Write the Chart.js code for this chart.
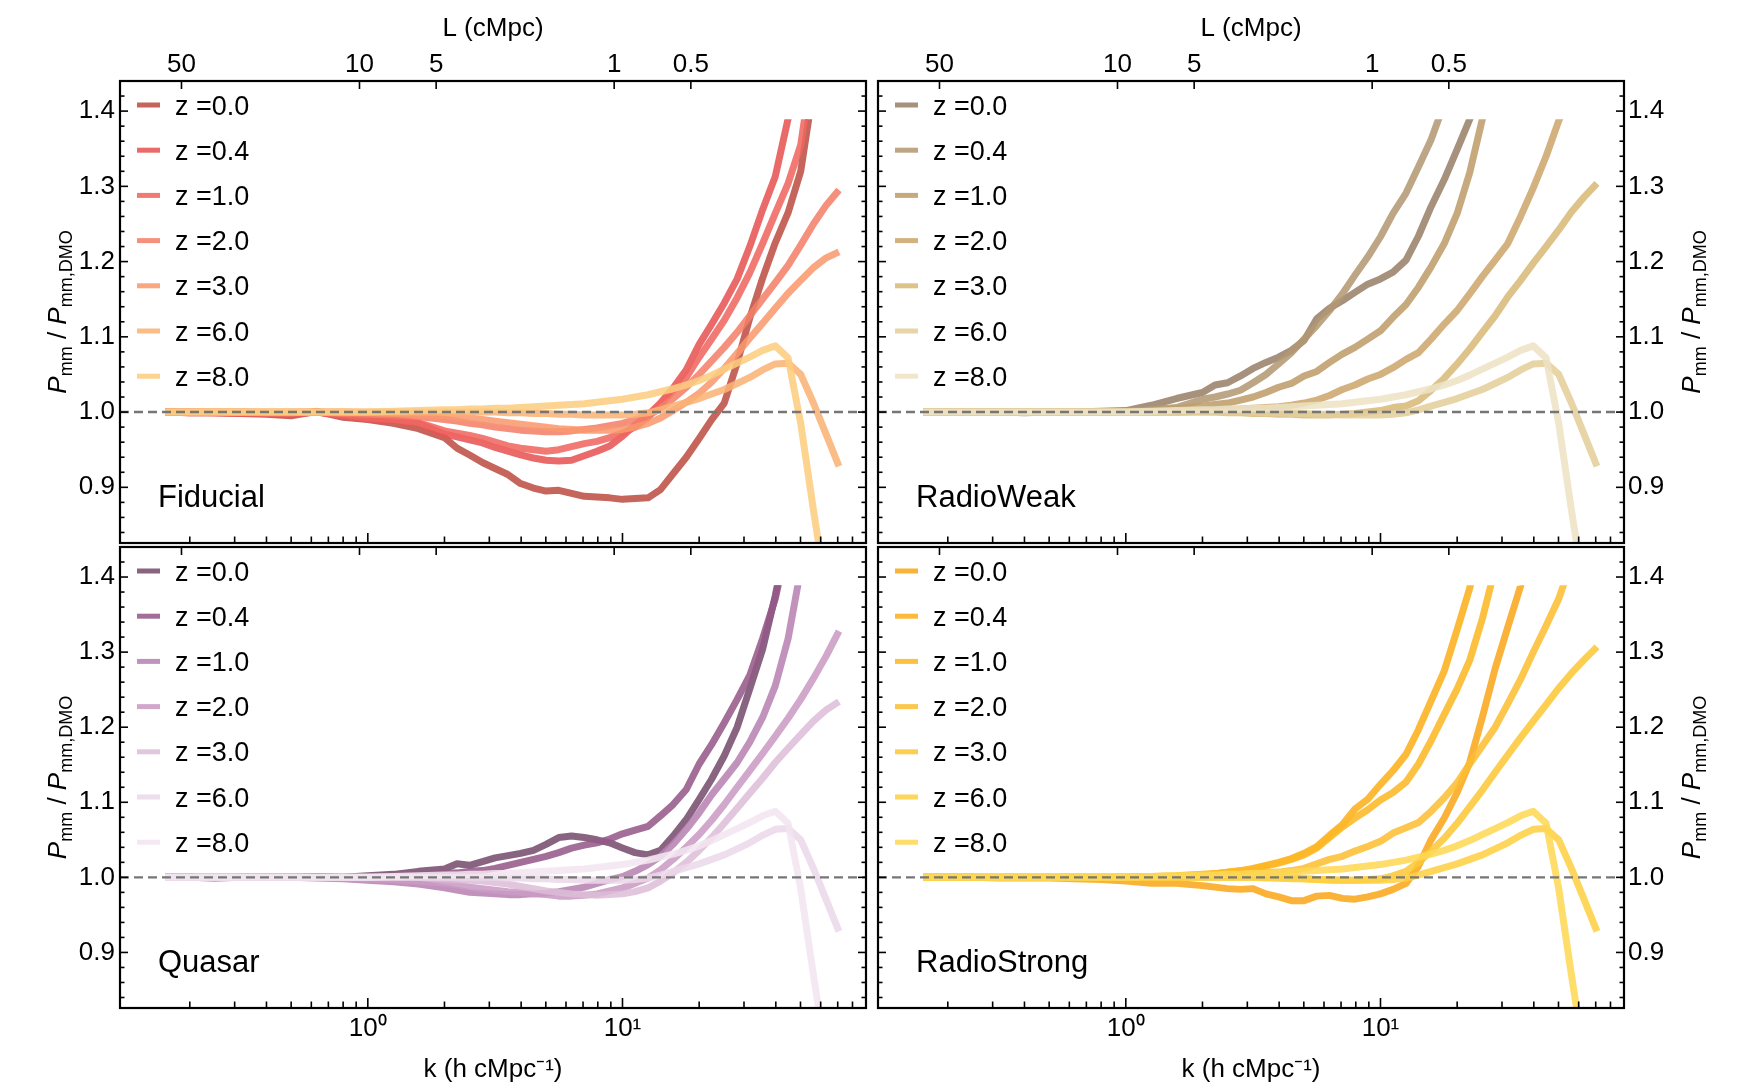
<!DOCTYPE html>
<html>
<head>
<meta charset="utf-8">
<script src="https://cdn.jsdelivr.net/npm/chart.js@4.4.1/dist/chart.umd.min.js"></script>
<style>
  body { margin: 0; background: #fff; }
  #wrap { position: relative; width: 1744px; height: 1089px; background: #fff; }
  #wrap canvas { position: absolute; }
</style>
</head>
<body>
<div id="wrap">
  <canvas id="c_fid" width="872" height="545" style="left:0px;top:0px"></canvas>
  <canvas id="c_rw" width="872" height="545" style="left:872px;top:0px"></canvas>
  <canvas id="c_q" width="872" height="544" style="left:0px;top:545px"></canvas>
  <canvas id="c_rs" width="872" height="544" style="left:872px;top:545px"></canvas>
</div>
<script>
// k grid (h cMpc^-1)
const kValues = [0.16, 0.2, 0.25, 0.32, 0.4, 0.5, 0.63, 0.8, 1.0, 1.26, 1.58, 2.0, 2.24, 2.51, 2.82, 3.16, 3.55, 3.98, 4.47, 5.01, 5.62, 6.31, 7.08, 7.94, 8.91, 10.0, 11.2, 12.6, 14.1, 15.8, 17.8, 20.0, 22.4, 25.1, 28.2, 31.6, 35.5, 39.8, 44.7, 50.1, 56.2, 63.1, 70.8];

const zLabels = ['z =0.0', 'z =0.4', 'z =1.0', 'z =2.0', 'z =3.0', 'z =6.0', 'z =8.0'];
const panelNames = ['Fiducial', 'RadioWeak', 'Quasar', 'RadioStrong'];

// axis ticks
const kMajorTicks = [1, 10];
const kTickLabels = ['10\u2070', '10\u00B9'];
const kMinorTicks = [0.2, 0.3, 0.4, 0.5, 0.6, 0.7, 0.8, 0.9, 2, 3, 4, 5, 6, 7, 8, 9, 20, 30, 40, 50, 60, 70, 80];
const lTicks = [50, 10, 5, 1, 0.5];
const lTickLabels = ['50', '10', '5', '1', '0.5'];
const yMajorTicks = [0.9, 1.0, 1.1, 1.2, 1.3, 1.4];

// Fiducial
const fiducialZ0 = [1.000, 0.999, 0.999, 0.998, 0.997, 0.995, 1.001, 0.993, 0.990, 0.985, 0.978, 0.966, 0.952, 0.943, 0.933, 0.925, 0.917, 0.905, 0.899, 0.895, 0.896, 0.892, 0.888, 0.887, 0.886, 0.884, 0.885, 0.886, 0.897, 0.918, 0.940, 0.965, 0.990, 1.012, 1.065, 1.125, 1.178, 1.225, 1.265, 1.320, 1.430, null, null];
const fiducialZ04 = [1.000, 0.999, 0.999, 0.998, 0.998, 0.997, 1.000, 0.995, 0.991, 0.989, 0.985, 0.971, 0.967, 0.963, 0.959, 0.953, 0.948, 0.943, 0.939, 0.936, 0.935, 0.936, 0.942, 0.948, 0.955, 0.968, 0.983, 0.996, 1.012, 1.032, 1.056, 1.090, 1.117, 1.145, 1.177, 1.220, 1.269, 1.313, 1.390, 1.480, null, null, null];
const fiducialZ1 = [1.000, 1.000, 0.999, 0.999, 0.998, 0.998, 1.000, 0.996, 0.992, 0.990, 0.986, 0.975, 0.972, 0.969, 0.965, 0.960, 0.955, 0.952, 0.950, 0.948, 0.950, 0.954, 0.958, 0.961, 0.966, 0.972, 0.980, 0.993, 1.010, 1.028, 1.046, 1.073, 1.097, 1.122, 1.152, 1.185, 1.224, 1.264, 1.304, 1.355, 1.470, null, null];
const fiducialZ2 = [1.000, 1.000, 1.000, 1.000, 0.999, 0.999, 1.000, 0.998, 0.997, 0.996, 0.994, 0.990, 0.988, 0.985, 0.983, 0.980, 0.978, 0.976, 0.975, 0.974, 0.974, 0.975, 0.977, 0.979, 0.982, 0.985, 0.990, 0.995, 1.005, 1.018, 1.033, 1.050, 1.068, 1.086, 1.106, 1.128, 1.150, 1.172, 1.195, 1.222, 1.250, 1.275, 1.295];
const fiducialZ3 = [1.000, 1.000, 1.000, 1.000, 1.000, 1.000, 1.000, 1.000, 0.999, 0.998, 0.997, 0.995, 0.993, 0.992, 0.990, 0.988, 0.986, 0.984, 0.982, 0.980, 0.978, 0.977, 0.976, 0.976, 0.976, 0.977, 0.980, 0.985, 0.992, 1.002, 1.013, 1.025, 1.040, 1.058, 1.078, 1.098, 1.118, 1.138, 1.158, 1.175, 1.192, 1.205, 1.213];

// z=6 and z=8 curves are the same in all four runs
const sharedZ6 = [1.000, 1.000, 1.000, 1.000, 1.000, 1.000, 1.000, 1.000, 1.000, 1.000, 1.000, 1.000, 1.000, 1.000, 1.000, 1.000, 0.999, 0.999, 0.998, 0.998, 0.997, 0.997, 0.996, 0.996, 0.996, 0.996, 0.997, 0.999, 1.003, 1.008, 1.013, 1.018, 1.024, 1.030, 1.038, 1.046, 1.056, 1.064, 1.065, 1.050, 1.012, 0.970, 0.928];
const sharedZ8 = [1.000, 1.000, 1.000, 1.000, 1.000, 1.000, 1.000, 1.000, 1.000, 1.001, 1.002, 1.003, 1.003, 1.004, 1.004, 1.005, 1.005, 1.006, 1.007, 1.008, 1.009, 1.010, 1.011, 1.013, 1.015, 1.017, 1.020, 1.023, 1.027, 1.031, 1.036, 1.042, 1.049, 1.057, 1.065, 1.073, 1.082, 1.088, 1.072, 0.985, 0.870, 0.760, null];

// RadioWeak
const radioWeakZ0 = [1.000, 1.000, 1.000, 1.000, 0.999, 1.000, 1.000, 1.001, 1.002, 1.009, 1.018, 1.026, 1.036, 1.039, 1.048, 1.058, 1.066, 1.073, 1.082, 1.095, 1.124, 1.138, 1.148, 1.159, 1.170, 1.177, 1.186, 1.202, 1.234, 1.273, 1.309, 1.349, 1.389, 1.430, null, null, null, null, null, null, null, null, null];
const radioWeakZ04 = [1.000, 1.000, 1.000, 1.000, 1.000, 1.000, 1.000, 1.000, 1.001, 1.003, 1.006, 1.017, 1.020, 1.024, 1.029, 1.039, 1.050, 1.064, 1.079, 1.097, 1.115, 1.135, 1.157, 1.182, 1.206, 1.233, 1.264, 1.291, 1.326, 1.362, 1.410, null, null, null, null, null, null, null, null, null, null, null, null];
const radioWeakZ1 = [1.000, 1.000, 1.000, 1.000, 1.000, 1.000, 1.000, 1.000, 1.000, 1.002, 1.004, 1.008, 1.010, 1.012, 1.016, 1.020, 1.026, 1.033, 1.038, 1.048, 1.054, 1.066, 1.077, 1.086, 1.097, 1.108, 1.126, 1.143, 1.166, 1.193, 1.224, 1.264, 1.318, 1.389, 1.460, null, null, null, null, null, null, null, null];
const radioWeakZ2 = [1.000, 1.000, 1.000, 1.000, 1.000, 1.000, 1.000, 1.000, 1.000, 1.000, 1.000, 1.001, 1.002, 1.003, 1.004, 1.005, 1.006, 1.007, 1.009, 1.012, 1.016, 1.022, 1.030, 1.036, 1.044, 1.050, 1.059, 1.070, 1.079, 1.097, 1.117, 1.135, 1.157, 1.180, 1.202, 1.224, 1.260, 1.298, 1.340, 1.387, 1.430, null, null];
const radioWeakZ3 = [1.000, 1.000, 1.000, 1.000, 1.000, 1.000, 1.000, 1.000, 1.000, 1.000, 1.000, 1.000, 1.000, 0.999, 0.999, 0.998, 0.998, 0.997, 0.997, 0.996, 0.996, 0.996, 0.997, 0.998, 1.000, 1.002, 1.006, 1.008, 1.015, 1.029, 1.045, 1.064, 1.084, 1.106, 1.128, 1.153, 1.175, 1.198, 1.220, 1.242, 1.266, 1.286, 1.304];

// Quasar
const quasarZ0 = [1.000, 1.000, 0.999, 1.000, 1.000, 1.000, 1.001, 1.000, 1.002, 1.004, 1.008, 1.011, 1.018, 1.016, 1.021, 1.026, 1.029, 1.032, 1.036, 1.044, 1.053, 1.055, 1.053, 1.050, 1.046, 1.039, 1.033, 1.030, 1.036, 1.055, 1.077, 1.104, 1.131, 1.162, 1.200, 1.251, 1.304, 1.375, 1.460, null, null, null, null];
const quasarZ04 = [1.000, 1.000, 1.000, 1.000, 1.000, 1.000, 1.000, 1.000, 1.000, 1.001, 1.003, 1.005, 1.006, 1.008, 1.009, 1.012, 1.016, 1.020, 1.024, 1.028, 1.033, 1.039, 1.043, 1.046, 1.051, 1.058, 1.063, 1.068, 1.082, 1.097, 1.117, 1.151, 1.177, 1.206, 1.237, 1.269, 1.318, 1.371, 1.450, null, null, null, null];
const quasarZ1 = [1.000, 1.000, 1.000, 1.000, 1.000, 1.000, 0.999, 0.998, 0.996, 0.994, 0.991, 0.986, 0.983, 0.980, 0.979, 0.978, 0.977, 0.977, 0.978, 0.979, 0.981, 0.984, 0.987, 0.992, 0.997, 1.001, 1.008, 1.017, 1.028, 1.044, 1.064, 1.086, 1.110, 1.131, 1.153, 1.180, 1.213, 1.255, 1.318, 1.410, null, null, null];
const quasarZ2 = [1.000, 1.000, 1.000, 1.000, 1.000, 1.000, 1.000, 0.999, 0.998, 0.997, 0.995, 0.992, 0.990, 0.987, 0.985, 0.983, 0.981, 0.980, 0.978, 0.977, 0.975, 0.975, 0.976, 0.978, 0.982, 0.986, 0.992, 0.999, 1.010, 1.024, 1.040, 1.057, 1.076, 1.097, 1.120, 1.142, 1.165, 1.188, 1.212, 1.237, 1.265, 1.295, 1.328];
const quasarZ3 = [1.000, 1.000, 1.000, 1.000, 1.000, 1.000, 1.000, 1.000, 1.000, 1.000, 1.000, 0.998, 0.997, 0.996, 0.995, 0.993, 0.991, 0.988, 0.985, 0.982, 0.980, 0.978, 0.977, 0.976, 0.977, 0.978, 0.981, 0.986, 0.995, 1.006, 1.020, 1.036, 1.053, 1.072, 1.092, 1.112, 1.132, 1.153, 1.172, 1.190, 1.208, 1.223, 1.234];

// RadioStrong
const radioStrongZ0 = [1.000, 1.000, 1.000, 0.999, 0.999, 0.999, 0.998, 0.997, 0.995, 0.992, 0.992, 0.989, 0.987, 0.985, 0.984, 0.985, 0.978, 0.974, 0.969, 0.969, 0.975, 0.976, 0.972, 0.971, 0.974, 0.978, 0.984, 0.992, 1.015, 1.050, 1.079, 1.113, 1.153, 1.213, 1.278, 1.333, 1.388, 1.450, null, null, null, null, null];
const radioStrongZ04 = [1.000, 1.000, 1.000, 1.000, 1.000, 1.000, 1.000, 1.000, 1.000, 1.001, 1.002, 1.004, 1.005, 1.007, 1.009, 1.012, 1.016, 1.020, 1.025, 1.032, 1.041, 1.056, 1.070, 1.091, 1.104, 1.124, 1.142, 1.164, 1.197, 1.235, 1.275, 1.330, 1.385, 1.460, null, null, null, null, null, null, null, null, null];
const radioStrongZ1 = [1.000, 1.000, 1.000, 1.000, 1.000, 1.000, 1.000, 1.000, 1.000, 1.000, 1.001, 1.003, 1.005, 1.007, 1.008, 1.011, 1.015, 1.019, 1.024, 1.030, 1.039, 1.053, 1.067, 1.079, 1.090, 1.103, 1.113, 1.127, 1.151, 1.182, 1.217, 1.251, 1.289, 1.344, 1.412, null, null, null, null, null, null, null, null];
const radioStrongZ2 = [1.000, 1.000, 1.000, 1.000, 1.000, 1.000, 1.000, 1.000, 1.000, 1.000, 1.000, 1.001, 1.002, 1.003, 1.004, 1.005, 1.006, 1.007, 1.009, 1.012, 1.018, 1.024, 1.028, 1.035, 1.041, 1.048, 1.059, 1.066, 1.073, 1.088, 1.106, 1.126, 1.151, 1.175, 1.200, 1.231, 1.264, 1.300, 1.335, 1.371, 1.420, null, null];
const radioStrongZ3 = [1.000, 1.000, 1.000, 1.000, 1.000, 1.000, 1.000, 1.000, 1.000, 1.000, 1.000, 1.000, 1.000, 1.000, 1.000, 1.000, 1.000, 0.999, 0.999, 0.998, 0.997, 0.996, 0.996, 0.996, 0.997, 0.998, 1.002, 1.008, 1.020, 1.035, 1.052, 1.072, 1.094, 1.116, 1.140, 1.163, 1.186, 1.208, 1.230, 1.252, 1.272, 1.290, 1.307];

// line colours (drawn with some transparency)
const fiducialColors = ['#be4e44', '#e75454', '#f06660', '#f47f6a', '#f8996e', '#fab375', '#fdcd7f'];
const radioWeakColors = ['#99816a', '#b39973', '#be9d6a', '#cca76c', '#d8ba78', '#e4cf9b', '#ede2c4'];
const quasarColors = ['#784d6e', '#955a89', '#b883b2', '#ca9bc4', '#ddbed8', '#ebd8e9', '#f2e6f0'];
const radioStrongColors = ['#f9a71a', '#fbb01a', '#fbb825', '#fdbe31', '#fdc837', '#fed043', '#fed854'];

const K_MIN = 0.1064, K_MAX = 90.4;
const Y_MIN = 0.826, Y_MAX = 1.44, Y_CAP = 1.389;
const H_LITTLE = 0.6774;
const LINE_ALPHA = 0.87;
const FONT = "'Liberation Sans', Arial, Helvetica, sans-serif";

Chart.defaults.font.family = FONT;
Chart.defaults.color = '#000';

function rgba(hex, a) {
    var n = parseInt(hex.slice(1), 16);
    return `rgba(${(n >> 16) & 255}, ${(n >> 8) & 255}, ${n & 255}, ${a})`;
}

function lToK(L) {
    return 2 * Math.PI / (H_LITTLE * L);
}

// scales must not push the plot area around with label overflow
function noScalePadding(s) {
    s.paddingTop = 0;
    s.paddingBottom = 0;
    s.paddingLeft = 0;
    s.paddingRight = 0;
}

function drawYTitle(ctx, bx, cy) {
    var parts = [
        { t: 'P', font: 'italic 26px ' + FONT, dy: 0 },
        { t: 'mm', font: '18px ' + FONT, dy: 6 },
        { t: ' / ', font: '26px ' + FONT, dy: 0 },
        { t: 'P', font: 'italic 26px ' + FONT, dy: 0 },
        { t: 'mm,DMO', font: '18px ' + FONT, dy: 6 }
    ];
    ctx.save();
    ctx.translate(bx, cy);
    ctx.rotate(-Math.PI / 2);
    var total = 0;
    parts.forEach(function(p) { ctx.font = p.font; p.w = ctx.measureText(p.t).width; total += p.w; });
    var x = -total / 2;
    ctx.fillStyle = '#000';
    ctx.textBaseline = 'alphabetic';
    parts.forEach(function(p) { ctx.font = p.font; ctx.fillText(p.t, x, p.dy); x += p.w; });
    ctx.restore();
}

// frame with inward ticks, legend, panel name and y title
const decorPlugin = {
    id: 'decor',
    afterDraw(chart, args, opts) {
        var ctx = chart.ctx, a = chart.chartArea;
        var xs = chart.scales.x, ys = chart.scales.y;
        ctx.save();
        ctx.strokeStyle = '#000';
        ctx.lineWidth = 1.6;
        function seg(x1, y1, x2, y2) { ctx.beginPath(); ctx.moveTo(x1, y1); ctx.lineTo(x2, y2); ctx.stroke(); }

        for (var i = 42; i <= 71; i++) {
            var v = i / 50;
            var len = (i % 5 === 0) ? 8 : 4.5;
            var py = ys.getPixelForValue(v);
            if (py < a.top + 1 || py > a.bottom - 1) continue;
            seg(a.left, py, a.left + len, py);
            seg(a.right, py, a.right - len, py);
        }
        kMinorTicks.forEach(function(k) {
            var px = xs.getPixelForValue(k);
            seg(px, a.bottom, px, a.bottom - 6.5);
        });
        kMajorTicks.forEach(function(k) {
            var px = xs.getPixelForValue(k);
            seg(px, a.bottom, px, a.bottom - 10);
        });
        lTicks.forEach(function(L) {
            var px = xs.getPixelForValue(lToK(L));
            seg(px, a.top, px, a.top + 8);
        });
        ctx.lineWidth = 2.2;
        ctx.strokeRect(a.left, a.top, a.right - a.left, a.bottom - a.top);

        // legend
        ctx.font = '27px ' + FONT;
        ctx.fillStyle = '#000';
        ctx.textBaseline = 'alphabetic';
        opts.colors.forEach(function(c, i) {
            var yy = a.top + 24 + i * 45.2;
            ctx.strokeStyle = rgba(c, LINE_ALPHA);
            ctx.lineWidth = 5;
            seg(a.left + 17, yy, a.left + 40, yy);
            ctx.fillText(zLabels[i], a.left + 55, yy + 9.5);
        });

        // panel name
        ctx.font = '31px ' + FONT;
        ctx.fillText(opts.name, a.left + 38, a.bottom - 36);
        ctx.restore();

        var cy = (a.top + a.bottom) / 2;
        if (opts.side === 'left') drawYTitle(ctx, a.left - 54, cy);
        else drawYTitle(ctx, a.right + 76, cy);
    }
};

function makePanel(canvasId, name, series, colors, side, row) {
    var capPx = (Y_MAX - Y_CAP) / (Y_MAX - Y_MIN) * 462;
    var datasets = series.map(function(vals, i) {
        return {
            label: zLabels[i],
            data: vals,
            borderColor: rgba(colors[i], LINE_ALPHA),
            borderWidth: 7,
            borderJoinStyle: 'round',
            pointRadius: 0,
            fill: false,
            tension: 0,
            spanGaps: false,
            order: 10 - i,
            clip: { left: 0, right: 0, top: -capPx, bottom: 0 }
        };
    });
    datasets.push({
        label: 'ref',
        data: [{ x: K_MIN, y: 1 }, { x: K_MAX, y: 1 }],
        borderColor: '#767676',
        borderWidth: 2.4,
        borderDash: [9, 5],
        pointRadius: 0,
        order: -1,
        clip: 0
    });

    var tickFont = { size: 26, family: FONT };
    var titleFont = { size: 26, family: FONT };
    var noGrid = { display: false, drawTicks: false };

    return new Chart(document.getElementById(canvasId), {
        type: 'line',
        data: { labels: kValues, datasets: datasets },
        plugins: [decorPlugin],
        options: {
            responsive: false,
            animation: false,
            events: [],
            layout: {
                autoPadding: false,
                padding: side === 'left' ? { left: 0, right: 6, top: 0, bottom: 0 } : { left: 6, right: 0, top: 0, bottom: 0 }
            },
            plugins: {
                legend: { display: false },
                tooltip: { enabled: false },
                decor: { name: name, colors: colors, side: side }
            },
            scales: {
                x: {
                    type: 'logarithmic',
                    position: 'bottom',
                    min: K_MIN, max: K_MAX, bounds: 'data',
                    grid: noGrid,
                    border: { display: false },
                    afterBuildTicks: function(s) { s.ticks = kMajorTicks.map(function(v) { return { value: v }; }); },
                    ticks: {
                        display: row === 'bottom',
                        autoSkip: false, maxRotation: 0, minRotation: 0,
                        padding: 5, font: tickFont, color: '#000',
                        callback: function(v, i) { return kTickLabels[i]; }
                    },
                    title: { display: row === 'bottom', text: 'k (h cMpc\u207B\u00B9)', font: titleFont, color: '#000', padding: { top: 0, bottom: 4 } },
                    afterFit: function(s) { s.height = row === 'bottom' ? 81 : 2; noScalePadding(s); }
                },
                xTop: {
                    type: 'logarithmic',
                    position: 'top',
                    min: K_MIN, max: K_MAX, bounds: 'data',
                    grid: noGrid,
                    border: { display: false },
                    afterBuildTicks: function(s) { s.ticks = lTicks.map(function(L) { return { value: lToK(L) }; }); },
                    ticks: {
                        display: row === 'top',
                        autoSkip: false, maxRotation: 0, minRotation: 0,
                        padding: 1, font: tickFont, color: '#000',
                        callback: function(v, i) { return lTickLabels[i]; }
                    },
                    title: { display: row === 'top', text: 'L (cMpc)', font: titleFont, color: '#000', padding: { top: 13, bottom: 0 } },
                    afterFit: function(s) { s.height = row === 'top' ? 81 : 2; noScalePadding(s); }
                },
                y: {
                    type: 'linear',
                    position: side,
                    min: Y_MIN, max: Y_MAX, bounds: 'data',
                    grid: noGrid,
                    border: { display: false },
                    afterBuildTicks: function(s) { s.ticks = yMajorTicks.map(function(v) { return { value: v }; }); },
                    ticks: {
                        padding: side === 'left' ? 5 : 4,
                        font: tickFont, color: '#000',
                        callback: function(v) { return v.toFixed(1); }
                    },
                    afterFit: function(s) { s.width = 120; noScalePadding(s); }
                }
            }
        }
    });
}

makePanel('c_fid', panelNames[0], [fiducialZ0, fiducialZ04, fiducialZ1, fiducialZ2, fiducialZ3, sharedZ6, sharedZ8], fiducialColors, 'left', 'top');
makePanel('c_rw', panelNames[1], [radioWeakZ0, radioWeakZ04, radioWeakZ1, radioWeakZ2, radioWeakZ3, sharedZ6, sharedZ8], radioWeakColors, 'right', 'top');
makePanel('c_q', panelNames[2], [quasarZ0, quasarZ04, quasarZ1, quasarZ2, quasarZ3, sharedZ6, sharedZ8], quasarColors, 'left', 'bottom');
makePanel('c_rs', panelNames[3], [radioStrongZ0, radioStrongZ04, radioStrongZ1, radioStrongZ2, radioStrongZ3, sharedZ6, sharedZ8], radioStrongColors, 'right', 'bottom');
</script>
</body>
</html>
